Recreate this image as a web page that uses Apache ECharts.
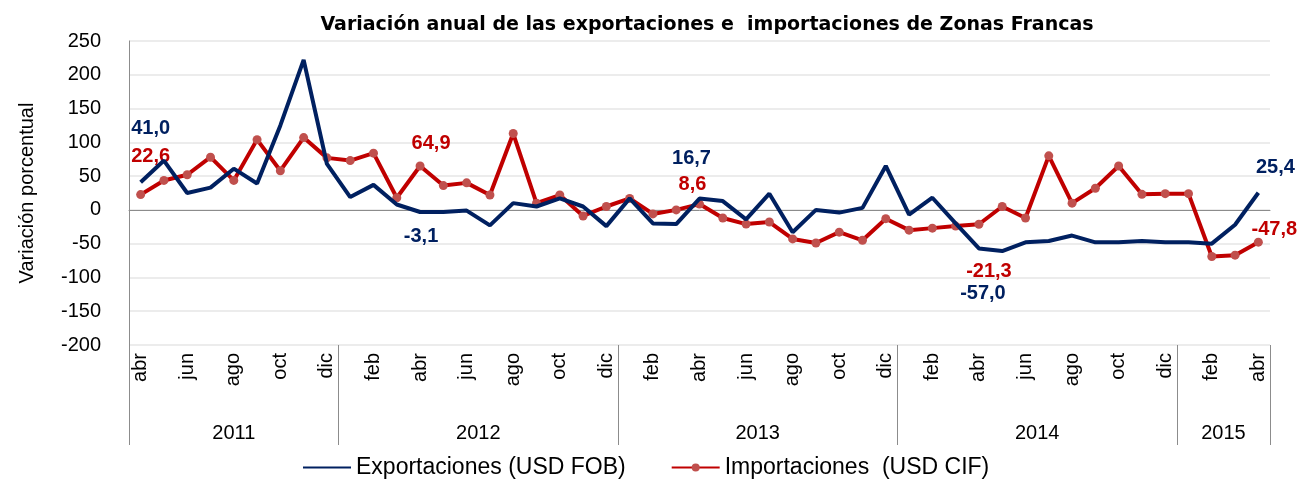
<!DOCTYPE html>
<html><head><meta charset="utf-8">
<script src="https://cdn.jsdelivr.net/npm/echarts@6/dist/echarts.min.js"></script>
<style>html,body{margin:0;padding:0;background:#fff}#c{width:1307px;height:489px}</style>
</head><body><div id="c"></div>
<script>
const monthNames = ['abr','may','jun','jul','ago','sep','oct','nov','dic',
  'ene','feb','mar','abr','may','jun','jul','ago','sep','oct','nov','dic',
  'ene','feb','mar','abr','may','jun','jul','ago','sep','oct','nov','dic',
  'ene','feb','mar','abr','may','jun','jul','ago','sep','oct','nov','dic',
  'ene','feb','mar','abr'];
const years = ['2011','2012','2013','2014','2015'];
const monthsPerYear = [9,12,12,12,4];
const exportaciones = [41.0,73,25,33,61,39,125,222,68,
  19,37,8,-3.1,-3,-1,-23,10,5,17,5,-24,
  17,-20,-21,16.7,13,-14,24,-33,0,-4,3,65,
  -7,18,-20,-57.0,-61,-48,-46,-38,-48,-48,-46,-48,
  -48,-50,-22,25.4];
const importaciones = [22.6,43.6,52,78,43.6,104,58,107,77,
  73,84,18,64.9,36,40,22,113,10,22,-9,5,
  17,-6,0,8.6,-12,-21,-18,-43,-49,-33,-45,-13,
  -30,-27,-24,-21.3,5,-12,80,10,32,65,23,24,
  24,-69,-67,-47.8];
const labeledIdx = [0,12,24,36,48];
const yTicks = {min:-200, max:250, step:50};

const NAVY = '#002060', RED = '#c00000', MARK = '#c0504d';
const FONT = '"Liberation Sans", Arial, sans-serif';
const expOffsets = {0:[10,-54],12:[1,25],24:[-8,-40],36:[4,45],48:[17,-25]};
const impOffsets = {0:[10,-38],12:[11,-23],24:[-7,-20],36:[10,47],48:[16,-13]};
const fmt = v => v.toFixed(1).replace('.', ',');

function buildData(vals, offsets, color){
  return vals.map((v,i) => {
    if (labeledIdx.indexOf(i) < 0) return v;
    return {value: v, label: {show: true, position: 'inside', offset: offsets[i],
      formatter: p => fmt(p.value), color: color, fontWeight: 'bold', fontSize: 20, fontFamily: FONT}};
  });
}

const bounds = [0];
monthsPerYear.forEach(n => bounds.push(bounds[bounds.length-1] + n));
const centers = years.map((y,k) => (bounds[k] + bounds[k+1]) / 2);

const chart = echarts.init(document.getElementById('c'));
chart.setOption({
  animation: false,
  backgroundColor: '#fff',
  title: {text: 'Variación anual de las exportaciones e  importaciones de Zonas Francas',
    left: 702, textAlign: 'center', top: 11,
    textStyle: {fontFamily: '"DejaVu Sans", sans-serif', fontSize: 19, fontWeight: 'bold', color: '#000'}},
  grid: {left: 129, right: 37, top: 41, bottom: 144},
  legend: {bottom: 5, left: 297, itemGap: 45, itemWidth: 48, itemHeight: 10, selectedMode: false,
    textStyle: {fontFamily: FONT, fontSize: 23, color: '#000'},
    data: ['Exportaciones (USD FOB)', 'Importaciones  (USD CIF)']},
  xAxis: [
    {type: 'category', data: monthNames, boundaryGap: true, position: 'bottom',
      axisLine: {show: false, onZero: false}, axisTick: {show: false},
      axisLabel: {interval: 1, rotate: 90, margin: 8, fontFamily: FONT, fontSize: 20, color: '#000'}},
    {type: 'value', min: 0, max: bounds[bounds.length-1], position: 'bottom',
      axisLine: {show: false, onZero: false}, splitLine: {show: false},
      axisTick: {show: true, customValues: bounds, length: 100, lineStyle: {color: '#8c8c8c', width: 1}},
      axisLabel: {customValues: centers, margin: 78, fontFamily: FONT, fontSize: 20, color: '#000',
        formatter: v => years[centers.indexOf(v)] || ''}},
    {type: 'category', data: monthNames, position: 'bottom',
      axisLine: {show: true, onZero: true, lineStyle: {color: '#8c8c8c', width: 1}},
      axisTick: {show: false}, axisLabel: {show: false}}
  ],
  yAxis: {type: 'value', min: yTicks.min, max: yTicks.max, interval: yTicks.step,
    name: 'Variación porcentual', nameLocation: 'middle', nameRotate: 90, nameGap: 92,
    nameTextStyle: {fontFamily: FONT, fontSize: 20, color: '#000'},
    axisLine: {show: true, lineStyle: {color: '#8c8c8c'}}, axisTick: {show: false},
    axisLabel: {fontFamily: FONT, fontSize: 20, color: '#000', margin: 28},
    splitLine: {lineStyle: {color: '#e6e6e6', width: 1.5}}},
  series: [
    {name: 'Exportaciones (USD FOB)', type: 'line', xAxisIndex: 0, data: buildData(exportaciones, expOffsets, NAVY),
      symbol: 'circle', symbolSize: 2, showSymbol: true, showAllSymbol: true,
      itemStyle: {color: 'rgba(0,0,0,0)'}, lineStyle: {color: NAVY, width: 4}, z: 3},
    {name: 'Importaciones  (USD CIF)', type: 'line', xAxisIndex: 0, data: buildData(importaciones, impOffsets, RED),
      symbol: 'circle', symbolSize: 9, showSymbol: true, showAllSymbol: true,
      itemStyle: {color: MARK, borderWidth: 0}, lineStyle: {color: RED, width: 4}, z: 2}
  ]
});
</script></body></html>
